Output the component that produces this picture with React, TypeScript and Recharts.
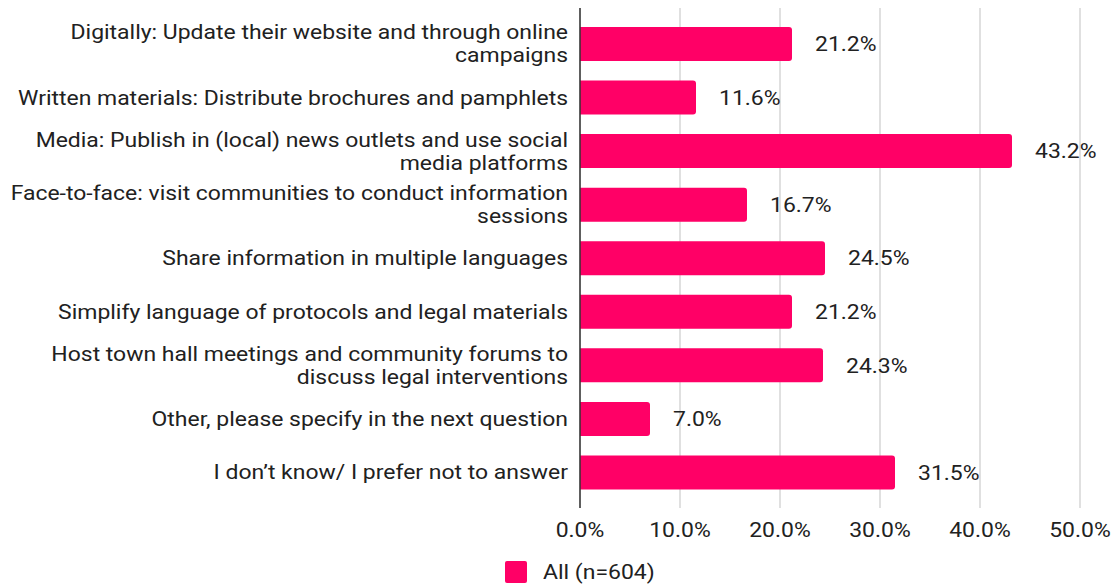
import React from 'react';
import { BarChart, Bar, XAxis, YAxis, CartesianGrid, LabelList, Legend } from 'recharts';

const categories: string[] = [
  'Digitally: Update their website and through online campaigns',
  'Written materials: Distribute brochures and pamphlets',
  'Media: Publish in (local) news outlets and use social media platforms',
  'Face-to-face: visit communities to conduct information sessions',
  'Share information in multiple languages',
  'Simplify language of protocols and legal materials',
  'Host town hall meetings and community forums to discuss legal interventions',
  'Other, please specify in the next question',
  'I don\u2019t know/ I prefer not to answer',
];
const values: number[] = [21.2, 11.6, 43.2, 16.7, 24.5, 21.2, 24.3, 7.0, 31.5];
const xTicks: number[] = [0, 10, 20, 30, 40, 50];
const seriesName = 'All (n=604)';

const data = categories.map((c, i) => ({ name: c, value: values[i] }));

const FONT_FAMILY = 'Roboto, sans-serif';
const FONT_SIZE = 20;
const SX = 1.148;
const TEXT_COLOR = '#212121';
const BAR_COLOR = '#ff0066';

let ctx: CanvasRenderingContext2D | null = null;
function wrap(text: string, maxWidth: number): string[] {
  if (!ctx) ctx = document.createElement('canvas').getContext('2d');
  if (!ctx) return [text];
  ctx.font = `${FONT_SIZE}px Roboto`;
  const words = text.split(' ');
  const lines: string[] = [];
  let cur = '';
  for (const w of words) {
    const t = cur ? cur + ' ' + w : w;
    if (cur && ctx.measureText(t).width * SX > maxWidth) {
      lines.push(cur);
      cur = w;
    } else cur = t;
  }
  if (cur) lines.push(cur);
  return lines;
}

const stretch = (x: number) => `translate(${x},0) scale(${SX},1) translate(${-x},0)`;

const YTick = (props: any) => {
  const { x, y, payload } = props;
  const lines = wrap(String(payload.value), 565);
  const lh = 23;
  const start = y - ((lines.length - 1) * lh) / 2;
  return (
    <g transform={stretch(x)}>
      <text x={x} y={y} textAnchor="end" fill={TEXT_COLOR} fontFamily={FONT_FAMILY} fontSize={FONT_SIZE}>
        {lines.map((l, i) => (
          <tspan key={i} x={x} y={start + i * lh} dy="0.36em">
            {l}
          </tspan>
        ))}
      </text>
    </g>
  );
};

const XTick = (props: any) => {
  const { x, y, payload } = props;
  return (
    <g transform={stretch(x)}>
      <text x={x} y={y} dy="0.71em" textAnchor="middle" fill={TEXT_COLOR} fontFamily={FONT_FAMILY} fontSize={FONT_SIZE}>
        {Number(payload.value).toFixed(1) + '%'}
      </text>
    </g>
  );
};

const ValueLabel = (props: any) => {
  const { x, y, width, height, value } = props;
  const tx = Number(x) + Number(width) + 23;
  const ty = Number(y) + Number(height) / 2;
  return (
    <g transform={stretch(tx)}>
      <text x={tx} y={ty} dy="0.36em" textAnchor="start" fill={TEXT_COLOR} fontFamily={FONT_FAMILY} fontSize={FONT_SIZE}>
        {Number(value).toFixed(1) + '%'}
      </text>
    </g>
  );
};

const LegendContent = () => (
  <div style={{ height: 24, display: 'flex', alignItems: 'center', marginLeft: 505, fontFamily: FONT_FAMILY, fontSize: FONT_SIZE, color: TEXT_COLOR }}>
    <div style={{ width: 22, height: 22, background: BAR_COLOR, borderRadius: 2, marginRight: 16, flex: 'none' }} />
    <span style={{ display: 'inline-block', transform: `scaleX(${SX})`, transformOrigin: 'left center', whiteSpace: 'nowrap' }}>{seriesName}</span>
  </div>
);

export default function App() {
  return (
    <div style={{ position: 'absolute', left: 0, top: 0, width: 1114, height: 584, background: '#fff' }}>
      <BarChart
        width={1114}
        height={584}
        data={data}
        layout="vertical"
        margin={{ top: 8, right: 34, bottom: 0, left: 0 }}
        barSize={34}
      >
        <CartesianGrid horizontal={false} vertical={true} stroke="#cccccc" strokeWidth={1.2} />
        <XAxis
          type="number"
          domain={[0, 50]}
          ticks={xTicks}
          axisLine={false}
          tickLine={false}
          tickSize={0}
          tickMargin={15}
          height={52}
          tick={<XTick />}
          interval={0}
        />
        <YAxis
          type="category"
          dataKey="name"
          width={580}
          axisLine={{ stroke: '#333333', strokeWidth: 1.5 }}
          tickLine={false}
          tickSize={0}
          tickMargin={12}
          padding={{ top: 9, bottom: 9 }}
          interval={0}
          tick={<YTick />}
        />
        <Legend
          verticalAlign="bottom"
          align="left"
          content={<LegendContent />}
          wrapperStyle={{ left: 0, width: 1114 }}
        />
        <Bar dataKey="value" name={seriesName} fill={BAR_COLOR} radius={[0, 3, 3, 0]} isAnimationActive={false}>
          <LabelList dataKey="value" content={<ValueLabel />} />
        </Bar>
      </BarChart>
    </div>
  );
}
